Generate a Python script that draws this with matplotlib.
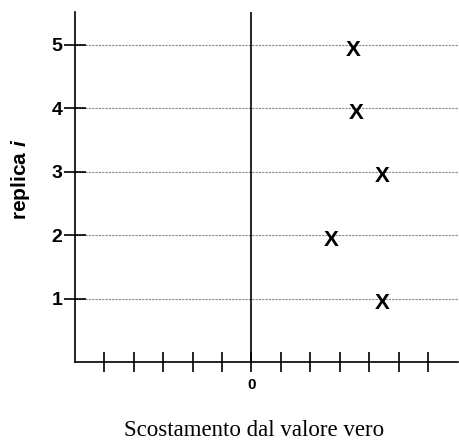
import matplotlib
matplotlib.use("Agg")
import matplotlib.pyplot as plt
from matplotlib.transforms import offset_copy

# data
replica = [1, 2, 3, 4, 5]
scostamento = [4.45, 2.7, 4.45, 3.55, 3.45]
x_ticks = [-5, -4, -3, -2, -1, 0, 1, 2, 3, 4, 5, 6]
x_tick_labels = ["", "", "", "", "", "0", "", "", "", "", "", ""]

plt.rcParams["font.family"] = "sans-serif"
plt.rcParams["font.sans-serif"] = ["Liberation Sans", "DejaVu Sans"]
plt.rcParams["mathtext.fontset"] = "custom"
plt.rcParams["mathtext.bfit"] = "Liberation Sans:italic:bold"

W, H = 459, 443
fig = plt.figure(figsize=(W / 100, H / 100), dpi=100)
ax = fig.add_axes([74.7 / W, 1 - 362 / H, 383 / W, 350 / H])

ax.set_xlim(-6, 7)
ax.set_ylim(0, 5.52)

for s in ["top", "right"]:
    ax.spines[s].set_visible(False)
for s in ["left", "bottom"]:
    ax.spines[s].set_linewidth(1.2)
    ax.spines[s].set_color("black")

ax.axvline(0, color="black", lw=1.2)
for r in replica:
    ax.axhline(r, color="#888888", lw=0.8, ls=(0, (2, 1)), zorder=1)

# the "X" glyph sits a touch below each line, as in the original
x_tr = offset_copy(ax.transData, fig=fig, y=-7.6, units="points")
for r, s in zip(replica, scostamento):
    ax.text(s, r, "X", ha="center", va="baseline", fontsize=16,
            fontweight="bold", color="black", zorder=3, transform=x_tr)

ax.set_xticks(x_ticks)
ax.set_xticklabels(x_tick_labels, fontsize=11, fontweight="bold")
ax.set_yticks(replica)
ax.set_yticklabels([str(r) for r in replica], fontsize=14, fontweight="bold")
ax.tick_params(axis="x", direction="inout", length=15, width=1.2, pad=4)
ax.tick_params(axis="y", direction="inout", length=16, width=1.2, pad=1)

ax.set_ylabel("replica $\\mathbfit{i}$", fontsize=15, fontweight="bold")
ax.yaxis.set_label_coords(-0.111, 0.523)

fig.text(254 / W, 1 - 430 / H, "Scostamento dal valore vero",
         family="Liberation Serif", fontsize=16.5, ha="center", va="center")

fig.savefig("out.png", dpi=100)
